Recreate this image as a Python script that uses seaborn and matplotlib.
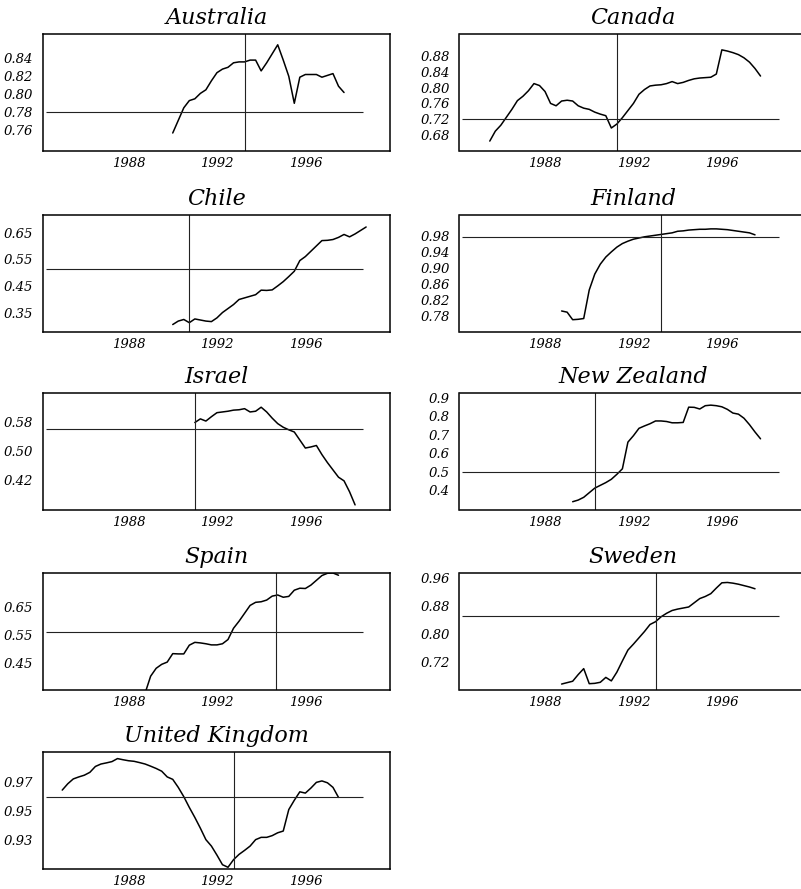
import numpy as np
import pandas as pd
import matplotlib
matplotlib.use("Agg")
import matplotlib.pyplot as plt
import seaborn as sns

# Quarterly series per country
countries = ["Australia", "Canada", "Chile", "Finland", "Israel",
             "New Zealand", "Spain", "Sweden", "United Kingdom"]
start_years = [1990.0, 1985.5, 1990.0, 1988.75, 1991.0, 1989.25, 1988.75, 1988.75, 1985.0]

australia = [0.757, 0.771, 0.785, 0.793, 0.795, 0.801, 0.805, 0.815, 0.824, 0.828,
             0.830, 0.835, 0.836, 0.836, 0.838, 0.838, 0.826, 0.835, 0.845, 0.855,
             0.838, 0.820, 0.790, 0.819, 0.822, 0.822, 0.822, 0.819, 0.821, 0.823,
             0.809, 0.802]
canada = [0.665, 0.690, 0.705, 0.725, 0.745, 0.767, 0.778, 0.792, 0.810, 0.805,
          0.790, 0.760, 0.754, 0.766, 0.768, 0.766, 0.754, 0.748, 0.745, 0.738,
          0.733, 0.729, 0.698, 0.708, 0.724, 0.742, 0.760, 0.783, 0.795, 0.804,
          0.806, 0.807, 0.810, 0.815, 0.810, 0.813, 0.818, 0.822, 0.824, 0.825,
          0.826, 0.834, 0.895, 0.892, 0.888, 0.883, 0.875, 0.864, 0.848, 0.829]
chile = [0.305, 0.318, 0.324, 0.312, 0.326, 0.322, 0.318, 0.316, 0.330, 0.350,
         0.365, 0.380, 0.399, 0.405, 0.411, 0.417, 0.434, 0.433, 0.435, 0.450,
         0.466, 0.485, 0.505, 0.545, 0.560, 0.580, 0.600, 0.620, 0.621, 0.624,
         0.632, 0.643, 0.634, 0.645, 0.658, 0.671]
finland = [0.792, 0.789, 0.770, 0.771, 0.773, 0.845, 0.885, 0.910, 0.928, 0.941,
           0.953, 0.962, 0.968, 0.973, 0.976, 0.979, 0.981, 0.983, 0.985, 0.987,
           0.989, 0.993, 0.994, 0.996, 0.997, 0.998, 0.998, 0.999, 0.999, 0.998,
           0.997, 0.995, 0.993, 0.991, 0.989, 0.984]
israel = [0.578, 0.588, 0.582, 0.594, 0.605, 0.607, 0.609, 0.612, 0.613, 0.616,
          0.607, 0.609, 0.620, 0.607, 0.590, 0.575, 0.565, 0.558, 0.552, 0.530,
          0.508, 0.511, 0.515, 0.490, 0.468, 0.448, 0.428, 0.418, 0.388, 0.352]
new_zealand = [0.336, 0.345, 0.360, 0.385, 0.410, 0.425, 0.440, 0.458, 0.485, 0.515,
               0.660, 0.695, 0.735, 0.748, 0.760, 0.775, 0.775, 0.772, 0.765, 0.765,
               0.767, 0.850, 0.849, 0.840, 0.858, 0.861, 0.858, 0.852, 0.838, 0.818,
               0.812, 0.790, 0.755, 0.715, 0.678]
spain = [0.345, 0.405, 0.433, 0.447, 0.455, 0.485, 0.484, 0.484, 0.515, 0.525,
         0.523, 0.520, 0.516, 0.516, 0.520, 0.535, 0.575, 0.600, 0.628, 0.656,
         0.667, 0.669, 0.675, 0.689, 0.693, 0.685, 0.688, 0.710, 0.717, 0.716,
         0.728, 0.745, 0.762, 0.770, 0.771, 0.763]
sweden = [0.656, 0.660, 0.664, 0.683, 0.700, 0.657, 0.658, 0.661, 0.675, 0.665,
          0.690, 0.722, 0.753, 0.770, 0.788, 0.806, 0.826, 0.834, 0.848, 0.858,
          0.866, 0.870, 0.873, 0.876, 0.888, 0.900, 0.906, 0.914, 0.930, 0.945,
          0.946, 0.944, 0.941, 0.937, 0.933, 0.928]
united_kingdom = [0.9646, 0.9690, 0.9724, 0.9738, 0.9750, 0.9770, 0.9811, 0.9828, 0.9836,
                  0.9845, 0.9866, 0.9858, 0.9851, 0.9847, 0.9838, 0.9828, 0.9813, 0.9797,
                  0.9778, 0.9738, 0.9721, 0.9665, 0.9600, 0.9525, 0.9455, 0.9380, 0.9300,
                  0.9255, 0.9192, 0.9125, 0.9107, 0.9160, 0.9197, 0.9225, 0.9255, 0.9300,
                  0.9316, 0.9316, 0.9328, 0.9348, 0.9360, 0.9510, 0.9575, 0.9634, 0.9625,
                  0.9660, 0.9700, 0.9710, 0.9697, 0.9665, 0.9595]

series = [australia, canada, chile, finland, israel, new_zealand, spain, sweden, united_kingdom]

# Reference level (horizontal) and break date (vertical) per country
levels = [0.78, 0.72, 0.515, 0.978, 0.56, 0.495, 0.562, 0.85, 0.960]
break_dates = [1993.25, 1991.25, 1990.75, 1993.25, 1991.0, 1990.25, 1994.67, 1993.0, 1992.75]
level_span = (1984.25, 1998.6)

# y-axis ticks and labels per country
y_ticks = [
    [0.76, 0.78, 0.80, 0.82, 0.84],
    [0.68, 0.72, 0.76, 0.80, 0.84, 0.88],
    [0.35, 0.45, 0.55, 0.65],
    [0.78, 0.82, 0.86, 0.90, 0.94, 0.98],
    [0.42, 0.50, 0.58],
    [0.4, 0.5, 0.6, 0.7, 0.8, 0.9],
    [0.45, 0.55, 0.65],
    [0.72, 0.80, 0.88, 0.96],
    [0.93, 0.95, 0.97],
]
y_labels = [
    ["0.76", "0.78", "0.80", "0.82", "0.84"],
    ["0.68", "0.72", "0.76", "0.80", "0.84", "0.88"],
    ["0.35", "0.45", "0.55", "0.65"],
    ["0.78", "0.82", "0.86", "0.90", "0.94", "0.98"],
    ["0.42", "0.50", "0.58"],
    ["0.4", "0.5", "0.6", "0.7", "0.8", "0.9"],
    ["0.45", "0.55", "0.65"],
    ["0.72", "0.80", "0.88", "0.96"],
    ["0.93", "0.95", "0.97"],
]
y_limits = [
    (0.737, 0.867), (0.640, 0.935), (0.277, 0.716), (0.739, 1.034), (0.338, 0.659),
    (0.291, 0.927), (0.356, 0.771), (0.639, 0.973), (0.9095, 0.9912),
]
x_ticks = [1988, 1992, 1996]
x_labels = ["1988", "1992", "1996"]
x_limits = (1984.13, 1999.83)

frames = []
for name, start, vals in zip(countries, start_years, series):
    frames.append(pd.DataFrame({
        "country": name,
        "year": start + 0.25 * np.arange(len(vals)),
        "value": vals,
    }))
df = pd.concat(frames, ignore_index=True)

sns.set_theme(style="white")
plt.rcParams["font.family"] = ["DejaVu Serif"]
plt.rcParams["font.style"] = "italic"
plt.rcParams["text.color"] = "black"
plt.rcParams["axes.titlecolor"] = "black"

W, H = 801, 889
fig = plt.figure(figsize=(W / 100, H / 100), dpi=100)

col_left = [43, 459.5]
ax_w = 347
row_top = [34, 215, 393, 573, 752]
ax_h = 117

for i, name in enumerate(countries):
    r, c = divmod(i, 2)
    left = col_left[c] / W
    bottom = 1 - (row_top[r] + ax_h) / H
    ax = fig.add_axes([left, bottom, ax_w / W, ax_h / H])

    sub = df[df["country"] == name]
    sns.lineplot(data=sub, x="year", y="value", ax=ax, color="black",
                 linewidth=1.1, estimator=None)
    ax.hlines(levels[i], level_span[0], level_span[1], color="#222222", linewidth=0.8)
    ax.axvline(break_dates[i], color="#222222", linewidth=0.8)

    ax.set_xlim(*x_limits)
    ax.set_ylim(*y_limits[i])
    ax.set_xticks(x_ticks)
    ax.set_xticklabels(x_labels)
    ax.set_yticks(y_ticks[i])
    ax.set_yticklabels(y_labels[i])
    ax.tick_params(axis="both", length=0, labelsize=9.5, colors="black")
    ax.tick_params(axis="x", pad=4)
    ax.tick_params(axis="y", pad=7)
    for lab in ax.get_xticklabels() + ax.get_yticklabels():
        lab.set_fontstyle("italic")
    ax.set_xlabel("")
    ax.set_ylabel("")
    ax.set_title(name, fontsize=16, fontstyle="italic", color="black", pad=7)
    for sp in ax.spines.values():
        sp.set_visible(True)
        sp.set_color("black")
        sp.set_linewidth(1.1)

fig.savefig("out.png", dpi=100)
